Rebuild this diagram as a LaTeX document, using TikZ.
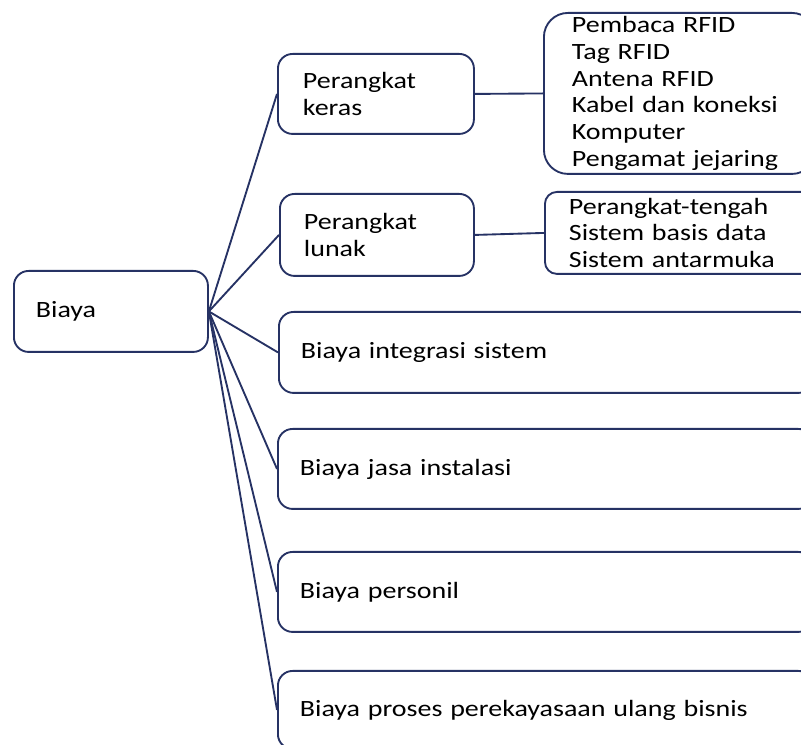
\documentclass[tikz,border=0pt]{standalone}
\usepackage{fontspec}
\setmainfont{Carlito}[FakeStretch=1.2]
\definecolor{navy}{RGB}{38,50,100}
\begin{document}
\begin{tikzpicture}[x=0.75pt,y=-0.75pt,
  box/.style={draw=navy,line width=1.4pt,rounded corners=11pt,fill=white,
    anchor=north west,align=left,inner ysep=0pt,
    font=\fontsize{17.5}{20}\selectfont,text=black},
  link/.style={draw=navy,line width=1.4pt}]
\clip (0,0) rectangle (801,745);
\fill[white] (0,0) rectangle (801,745);
% main node
\node[box,minimum width=145.5pt,minimum height=60.75pt,inner xsep=16.5pt,text width=112.5pt] (biaya) at (13,270) {Biaya};
% hardware / software
\node[box,minimum width=147pt,minimum height=60pt,inner xsep=18.75pt,text width=109.5pt] (keras) at (277,53) {Perangkat\\keras};
\node[box,minimum width=145.5pt,minimum height=61.5pt,inner xsep=18pt,text width=109.5pt] (lunak) at (279,193) {Perangkat\\lunak};
\node[box,rounded corners=18pt,minimum width=204pt,minimum height=120.75pt,inner xsep=21pt,text width=162pt] (hw) at (543,12)
  {Pembaca RFID\\Tag RFID\\Antena RFID\\Kabel dan koneksi\\Komputer\\Pengamat jejaring};
\node[box,rounded corners=9pt,minimum width=201pt,minimum height=61.5pt,inner xsep=18pt,text width=165pt] (sw) at (544,191)
  {Perangkat-tengah\\Sistem basis data\\Sistem antarmuka};
% other cost items
\node[box,minimum width=400.5pt,minimum height=60.75pt,inner xsep=16.5pt,text width=367.5pt] (integrasi) at (278,311) {Biaya integrasi sistem};
\node[box,minimum width=401.25pt,minimum height=60pt,inner xsep=16.5pt,text width=368.25pt] (jasa) at (277,428) {Biaya jasa instalasi};
\node[box,minimum width=401.25pt,minimum height=60pt,inner xsep=16.5pt,text width=368.25pt] (personil) at (277,551) {Biaya personil};
\node[box,minimum width=401.25pt,minimum height=58.5pt,inner xsep=16.5pt,text width=368.25pt] (proses) at (277,670) {Biaya proses perekayasaan ulang bisnis};
% connectors
\foreach \t in {keras,lunak,integrasi,jasa,personil,proses}
  \draw[link] (biaya.east) -- (\t.west);
\draw[link] (keras.east) -- (hw.west);
\draw[link] (lunak.east) -- (sw.west);
\end{tikzpicture}
\end{document}
